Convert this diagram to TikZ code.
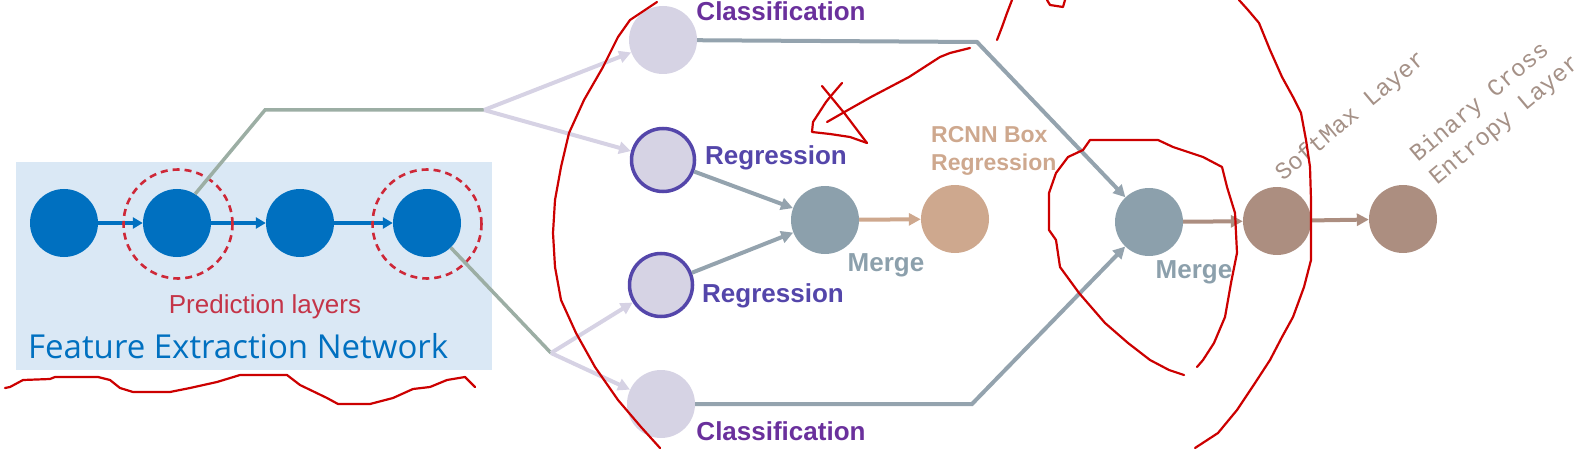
\documentclass[tikz,border=0pt]{standalone}
\usepackage{fontspec}
\setmainfont{Liberation Sans}
\newfontfamily\netfont{Open Sans}
\newfontfamily\codefont{Liberation Mono}
\usetikzlibrary{arrows.meta}
\definecolor{featblue}{RGB}{0,112,192}
\definecolor{boxblue}{RGB}{218,232,245}
\definecolor{predred}{RGB}{206,40,56}
\definecolor{predtext}{RGB}{196,52,72}
\definecolor{trunkgreen}{RGB}{156,174,164}
\definecolor{fanlav}{RGB}{214,210,228}
\definecolor{dotlav}{RGB}{214,211,228}
\definecolor{regpurple}{RGB}{84,70,170}
\definecolor{clspurple}{RGB}{106,48,156}
\definecolor{mergegray}{RGB}{140,160,172}
\definecolor{linkgray}{RGB}{148,163,174}
\definecolor{boxtan}{RGB}{206,168,142}
\definecolor{lossbrown}{RGB}{172,142,128}
\definecolor{layergray}{RGB}{165,145,135}
\definecolor{inkred}{RGB}{204,0,0}

\begin{document}
\begin{tikzpicture}[x=1pt,y=-1pt,
  featdot/.style={circle,fill=featblue,inner sep=0pt,minimum size=68pt},
  predring/.style={circle,draw=predred,line width=2.6pt,dash pattern=on 7pt off 5pt,inner sep=0pt,minimum size=109pt},
  headdot/.style={circle,fill=dotlav,inner sep=0pt,minimum size=68pt},
  regdot/.style={headdot,draw=regpurple,line width=3.5pt,minimum size=63pt},
  mergedot/.style={circle,fill=mergegray,inner sep=0pt,minimum size=68pt},
  rcnndot/.style={circle,fill=boxtan,inner sep=0pt,minimum size=68pt},
  lossdot/.style={circle,fill=lossbrown,inner sep=0pt,minimum size=68pt},
  feat/.style={featblue,line width=4pt,-{Triangle[length=10pt,width=11pt]}},
  fan/.style={fanlav,line width=4pt,-{Triangle[length=12pt,width=12pt]}},
  link/.style={linkgray,line width=4pt,-{Triangle[length=12pt,width=12pt]}},
  trunk/.style={trunkgreen,line width=3.5pt},
  lbl/.style={font=\bfseries\fontsize{26}{30}\selectfont,inner sep=0pt,anchor=base},
  ink/.style={inkred,line width=2.2pt,line join=round,line cap=round}]
  \useasboundingbox (0,0) rectangle (1589,449);
  \fill[boxblue] (16,162) rectangle (492,370);

  \node[featdot] (b1) at (64,223) {};
  \node[featdot] (b2) at (177,223) {};
  \node[featdot] (b3) at (300,223) {};
  \node[featdot] (b4) at (427,223) {};
  \draw[feat] (b1) -- (b2);
  \draw[feat] (b2) -- (b3);
  \draw[feat] (b3) -- (b4);
  \node[predring] (ring2) at (178,224) {};
  \node[predring] (ring4) at (427,224) {};
  \node[predtext,font=\fontsize{26}{30}\selectfont,inner sep=0pt,anchor=base] (predlbl) at (265,313) {Prediction layers};
  \node[featblue,font=\netfont\fontsize{33}{38}\selectfont,inner sep=0pt,anchor=base west] (netlbl) at (28,358) {Feature Extraction Network};

  \node[headdot] (cls1) at (663,40) {};
  \node[regdot] (reg1) at (663,160) {};
  \node[regdot] (reg2) at (661,285) {};
  \node[headdot] (cls2) at (661,404) {};
  \node[mergedot] (merge1) at (825,220) {};
  \node[rcnndot] (rcnn) at (955,219) {};
  \node[mergedot] (merge2) at (1149,222) {};
  \node[lossdot] (soft) at (1277,221) {};
  \node[lossdot] (bce) at (1403,219) {};

  \coordinate (jbend) at (265,110);
  \coordinate (jtop) at (484,110);
  \coordinate (jbot) at (551,353);
  \coordinate (ctop) at (977,42);
  \coordinate (cbot) at (972,404);
  \draw[trunk] (b2.58) -- (jbend) -- (jtop);
  \draw[trunk] (b4.-46) -- (jbot);
  \draw[fan] (jtop) -- (cls1);
  \draw[fan] (jtop) -- (reg1);
  \draw[fan] (jbot) -- (reg2);
  \draw[fan] (jbot) -- (cls2);
  \draw[link] (reg1) -- (merge1);
  \draw[link] (reg2) -- (merge1);
  \draw[link] (cls1) -- (ctop) -- (merge2);
  \draw[link] (cls2) -- (cbot) -- (merge2);
  \draw[boxtan,line width=4pt,-{Triangle[length=12pt,width=12pt]}] (merge1) -- (rcnn);
  \draw[lossbrown,line width=4pt,-{Triangle[length=12pt,width=12pt]}] (merge2) -- (soft);
  \draw[lossbrown,line width=4pt,-{Triangle[length=12pt,width=12pt]}] (soft) -- (bce);

  \node[lbl,clspurple] (cls1lbl) at (781,21) {Classification};
  \node[lbl,regpurple] (reg1lbl) at (776,165) {Regression};
  \node[lbl,regpurple] (reg2lbl) at (773,302) {Regression};
  \node[lbl,clspurple] (cls2lbl) at (781,440) {Classification};
  \node[lbl,mergegray] (merge1lbl) at (886,271) {Merge};
  \node[lbl,mergegray] (merge2lbl) at (1194,278) {Merge};
  \node[boxtan,font=\bfseries\fontsize{23}{28}\selectfont,inner sep=0pt,align=left,anchor=north west] (rcnnlbl) at (931,126) {RCNN Box\\Regression};
  \node[layergray,font=\codefont\fontsize{24}{30}\selectfont,inner sep=0pt,rotate=40,anchor=base west] (softlbl) at (1283,182) {SoftMax Layer};
  \node[layergray,font=\codefont\fontsize{24}{30}\selectfont,inner sep=0pt,rotate=40,align=left,anchor=base west] (bcelbl) at (1437,186) {Binary Cross\\Entropy Layer};

  \draw[ink] (657,2) -- (630,20) -- (618,37) -- (603,67) -- (584,100) -- (569,133) -- (561,167) -- (555,200) -- (553,233) -- (555,267) -- (561,300) -- (576,333) -- (595,367) -- (618,400) -- (641,427) -- (660,448);
  \draw[ink] (1239,0) -- (1248,10) -- (1259,23) -- (1270,50) -- (1282,77) -- (1293,97) -- (1301,113) -- (1306,140) -- (1310,167) -- (1311,200) -- (1311,260) -- (1304,287) -- (1293,317) -- (1282,337) -- (1270,360) -- (1255,383) -- (1237,410) -- (1218,433) -- (1195,448);
  \draw[ink] (1184,375) -- (1169,370) -- (1150,360) -- (1128,343) -- (1105,323) -- (1079,293) -- (1060,267) -- (1056,240) -- (1049,230) -- (1049,193) -- (1056,173) -- (1068,157) -- (1083,150) -- (1090,140) -- (1158,140) -- (1173,147) -- (1203,157) -- (1222,167) -- (1227,187) -- (1235,213) -- (1237,253) -- (1231,283) -- (1225,317) -- (1214,343) -- (1203,360) -- (1197,367);
  \draw[ink] (997,40) -- (1002,27) -- (1007,13) -- (1012,0);
  \draw[ink] (1047,0) -- (1050,5) -- (1063,7) -- (1065,0);
  \draw[ink] (970,48) -- (950,53) -- (940,57) -- (909,77) -- (871,97) -- (848,110) -- (827,122);
  \draw[ink] (842,83) -- (830,97) -- (826,102) -- (813,122) -- (812,132) -- (830,134) -- (850,137) -- (867,143);
  \draw[ink] (822,86) -- (845,114) -- (867,143);
  \draw[ink] (5,388) -- (10,387) -- (23,380) -- (50,379) -- (55,377) -- (98,377) -- (110,380) -- (120,388) -- (133,392) -- (170,392) -- (190,388) -- (217,382) -- (240,375) -- (287,375) -- (300,385) -- (327,398) -- (338,404) -- (370,404) -- (393,398) -- (413,389) -- (430,387) -- (447,380) -- (465,377) -- (475,387);
\end{tikzpicture}
\end{document}
